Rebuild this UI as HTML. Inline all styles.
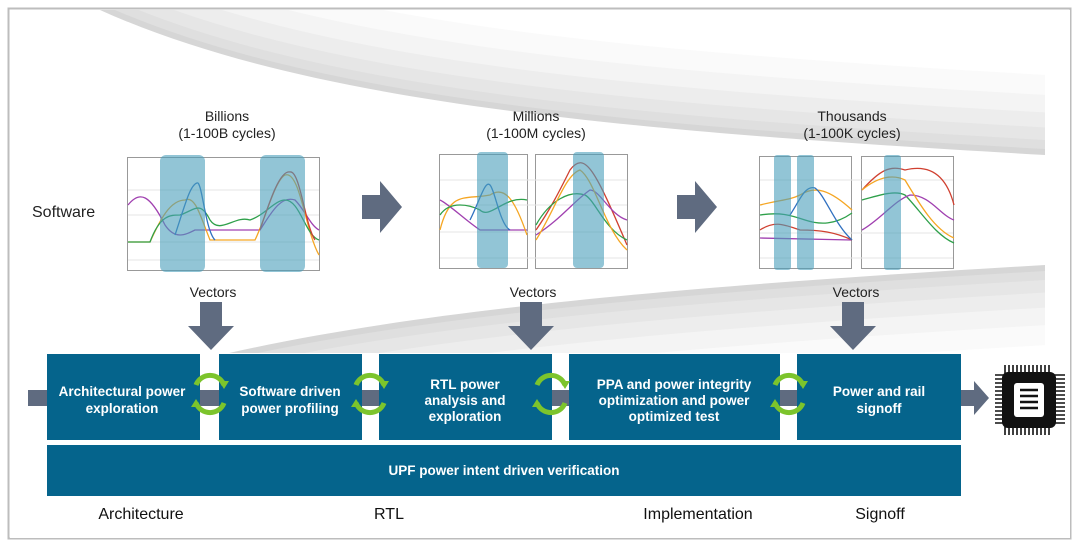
<!DOCTYPE html>
<html><head><meta charset="utf-8"><style>
body{margin:0;width:1080px;height:547px;background:#fff;font-family:"Liberation Sans",sans-serif;overflow:hidden}
</style></head><body>
<svg width="1080" height="547" viewBox="0 0 1080 547" xmlns="http://www.w3.org/2000/svg" font-family="Liberation Sans, sans-serif">
<defs>
<clipPath id="c"><rect x="10" y="10" width="1035" height="525"/></clipPath>
</defs>
<rect x="8.5" y="8.5" width="1062" height="530" fill="#fff" stroke="#bdbdbd" stroke-width="2"/>
<g clip-path="url(#c)" fill="none" stroke="#8a8a8a">
<path d="M100,10 C300,100 600,130 1045,155 M1045,265 C700,285 400,310 200,360" stroke-width="160" stroke-opacity="0.04"/>
<path d="M100,10 C300,100 600,130 1045,155 M1045,265 C700,285 400,310 200,360" stroke-width="120" stroke-opacity="0.05"/>
<path d="M100,10 C300,100 600,130 1045,155 M1045,265 C700,285 400,310 200,360" stroke-width="85" stroke-opacity="0.06"/>
<path d="M100,10 C300,100 600,130 1045,155 M1045,265 C700,285 400,310 200,360" stroke-width="55" stroke-opacity="0.07"/>
<path d="M100,10 C300,100 600,130 1045,155 M1045,265 C700,285 400,310 200,360" stroke-width="30" stroke-opacity="0.08"/>
<path d="M100,10 C300,100 600,130 1045,155 M1045,265 C700,285 400,310 200,360" stroke-width="12" stroke-opacity="0.1"/>
</g>
<path d="M100,10 C300,100 600,130 1045,155 L1045,265 C700,285 400,310 200,360 L10,360 L10,10 Z" fill="#fff"/>
<rect x="1045" y="10" width="25" height="350" fill="#fff"/>
<rect x="10" y="353" width="1060" height="185" fill="#fff"/>

<g font-size="14" fill="#222" text-anchor="middle">
<text x="227" y="121">Billions</text><text x="227" y="138">(1-100B cycles)</text>
<text x="536" y="121">Millions</text><text x="536" y="138">(1-100M cycles)</text>
<text x="852" y="121">Thousands</text><text x="852" y="138">(1-100K cycles)</text>
<text x="213" y="297">Vectors</text><text x="533" y="297">Vectors</text><text x="856" y="297">Vectors</text>
</g>
<text x="32" y="217" font-size="16" fill="#222">Software</text>

<g fill="#fff" stroke="#999" stroke-width="1">
<rect x="127.5" y="157.5" width="192" height="113"/>
<rect x="439.5" y="154.5" width="88" height="114"/>
<rect x="535.5" y="154.5" width="92" height="114"/>
<rect x="759.5" y="156.5" width="92" height="112"/>
<rect x="861.5" y="156.5" width="92" height="112"/>
</g>
<g stroke="#e4e4e4" stroke-width="1">
<line x1="128" y1="190" x2="319" y2="190"/><line x1="128" y1="215" x2="319" y2="215"/><line x1="128" y1="242" x2="319" y2="242"/><line x1="128" y1="260" x2="319" y2="260"/>
<line x1="440" y1="180" x2="627" y2="180"/><line x1="440" y1="205" x2="627" y2="205"/><line x1="440" y1="232" x2="627" y2="232"/><line x1="440" y1="258" x2="627" y2="258"/>
<line x1="760" y1="180" x2="953" y2="180"/><line x1="760" y1="233" x2="953" y2="233"/><line x1="760" y1="258" x2="953" y2="258"/>
</g>
<g fill="none" stroke-width="1.3">
<path d="M128,205 C140,190 150,195 165,225 C175,240 185,235 195,230 L260,230 C270,215 280,195 295,200 C305,210 310,225 319,230" stroke="#a040b0"/>
<path d="M128,242 L150,242 C160,220 170,200 185,200 C195,195 200,215 210,240 L255,240 C265,220 275,180 285,175 C300,170 305,230 319,255" stroke="#f5a623"/>
<path d="M128,242 L150,242 C160,215 170,215 180,215 C195,210 200,200 210,220 C220,235 235,215 250,220 C265,215 275,200 285,200 C300,200 305,235 319,240" stroke="#2ea04a"/>
<path d="M175,235 C185,205 190,185 197,183 C202,180 205,230 215,240" stroke="#3070c0"/>
<path d="M260,230 C270,200 280,170 290,172 C300,170 305,225 315,240" stroke="#d04030"/>
<path d="M440,200 C450,205 465,220 480,230 L527,230" stroke="#a040b0"/>
<path d="M440,230 C450,190 465,200 490,195 C505,185 515,200 527,235" stroke="#f5a623"/>
<path d="M440,215 C450,200 470,205 480,210 C490,220 505,195 527,200" stroke="#2ea04a"/>
<path d="M470,220 C480,200 485,180 490,185 C495,190 500,225 510,230" stroke="#3070c0"/>
<path d="M536,230 C550,210 560,190 570,170 C585,150 595,170 627,245" stroke="#d04030"/>
<path d="M536,225 C550,200 570,190 585,195 C595,200 605,230 627,240" stroke="#2ea04a"/>
<path d="M536,235 C560,220 575,200 590,190 C600,190 610,215 627,220" stroke="#a040b0"/>
<path d="M536,240 C555,210 565,175 580,170 C595,180 605,230 627,250" stroke="#f5a623"/>
<path d="M760,205 C780,200 790,200 800,195 C815,185 830,190 852,210" stroke="#f5a623"/>
<path d="M760,215 C780,212 790,215 805,220 C820,225 835,225 852,213" stroke="#2ea04a"/>
<path d="M760,238 L852,240" stroke="#a040b0"/>
<path d="M760,230 C775,220 785,225 800,230 C820,230 835,232 852,240" stroke="#d04030"/>
<path d="M790,215 C800,200 805,185 815,188 C825,195 835,225 852,240" stroke="#3070c0"/>
<path d="M862,190 C880,170 890,165 905,170 C925,165 945,170 954,205" stroke="#d04030"/>
<path d="M862,200 C880,195 895,190 905,195 C920,210 935,235 954,243" stroke="#2ea04a"/>
<path d="M862,230 C880,220 895,200 910,195 C930,195 940,215 954,220" stroke="#a040b0"/>
<path d="M862,190 C880,175 895,175 905,180 C920,205 935,230 954,238" stroke="#f5a623"/>
</g>
<g fill="#4a9fbb" fill-opacity="0.6">
<rect x="160" y="155" width="45" height="117" rx="6"/><rect x="260" y="155" width="45" height="117" rx="6"/>
<rect x="477" y="152" width="31" height="116" rx="4"/><rect x="573" y="152" width="31" height="116" rx="4"/>
<rect x="774" y="155" width="17" height="115" rx="3"/><rect x="797" y="155" width="17" height="115" rx="3"/><rect x="884" y="155" width="17" height="115" rx="3"/>
</g>

<g fill="#5f6b80">
<path d="M362,195 h18 v-14 l22,26 l-22,26 v-14 h-18z"/>
<path d="M677,195 h18 v-14 l22,26 l-22,26 v-14 h-18z"/>
<path d="M200,302 h22 v24 h12 l-23,24 l-23,-24 h12z"/>
<path d="M520,302 h22 v24 h12 l-23,24 l-23,-24 h12z"/>
<path d="M842,302 h22 v24 h12 l-23,24 l-23,-24 h12z"/>
<rect x="28" y="390" width="940" height="16"/>
<path d="M960,390 h14 v-9 l15,17 l-15,17 v-9 h-14z"/>
</g>

<g fill="#05648c">
<rect x="47" y="354" width="153" height="86"/>
<rect x="219" y="354" width="143" height="86"/>
<rect x="379" y="354" width="173" height="86"/>
<rect x="569" y="354" width="211" height="86"/>
<rect x="797" y="354" width="164" height="86"/>
<rect x="47" y="445" width="914" height="51"/>
</g>
<g fill="#fff" font-size="13.5" font-weight="bold" text-anchor="middle">
<text x="122" y="396">Architectural power</text><text x="122" y="413">exploration</text>
<text x="290" y="396">Software driven</text><text x="290" y="413">power profiling</text>
<text x="465" y="389">RTL power</text><text x="465" y="405">analysis and</text><text x="465" y="421">exploration</text>
<text x="674" y="389">PPA and power integrity</text><text x="674" y="405">optimization and power</text><text x="674" y="421">optimized test</text>
<text x="879" y="396">Power and rail</text><text x="879" y="413">signoff</text>
<text x="504" y="475">UPF power intent driven verification</text>
</g>
<g fill="none" stroke="#7cc42c" stroke-width="5">
<path d="M196,385 A15,15 0 0 1 224,385"/><path d="M224,403 A15,15 0 0 1 196,403"/>
<path d="M356,385 A15,15 0 0 1 384,385"/><path d="M384,403 A15,15 0 0 1 356,403"/>
<path d="M537,385 A15,15 0 0 1 565,385"/><path d="M565,403 A15,15 0 0 1 537,403"/>
<path d="M775,385 A15,15 0 0 1 803,385"/><path d="M803,403 A15,15 0 0 1 775,403"/>
</g>
<g fill="#7cc42c">
<path d="M219,381 l10,0 l-5,8z"/><path d="M191,407 l10,0 l-5,-8z"/>
<path d="M379,381 l10,0 l-5,8z"/><path d="M351,407 l10,0 l-5,-8z"/>
<path d="M560,381 l10,0 l-5,8z"/><path d="M532,407 l10,0 l-5,-8z"/>
<path d="M798,381 l10,0 l-5,8z"/><path d="M770,407 l10,0 l-5,-8z"/>
</g>
<g>
<g stroke="#111" stroke-width="1.6">
<path d="M1005,365 v70 M1009,365 v70 M1013,365 v70 M1017,365 v70 M1021,365 v70 M1025,365 v70 M1029,365 v70 M1033,365 v70 M1037,365 v70 M1041,365 v70 M1045,365 v70 M1049,365 v70"/>
<path d="M995,375 h70 M995,379 h70 M995,383 h70 M995,387 h70 M995,391 h70 M995,395 h70 M995,399 h70 M995,403 h70 M995,407 h70 M995,411 h70 M995,415 h70 M995,419 h70 M995,423 h70"/>
</g>
<rect x="1002" y="372" width="54" height="56" rx="6" fill="#111"/>
<rect x="1014" y="383" width="30" height="34" rx="3" fill="#fff"/>
<g stroke="#111" stroke-width="2.5"><path d="M1020,390h18M1020,396h18M1020,402h18M1020,408h18"/></g>
</g>
<g font-size="16" fill="#111" text-anchor="middle">
<text x="141" y="519">Architecture</text><text x="389" y="519">RTL</text><text x="698" y="519">Implementation</text><text x="880" y="519">Signoff</text>
</g>
</svg>
</body></html>
